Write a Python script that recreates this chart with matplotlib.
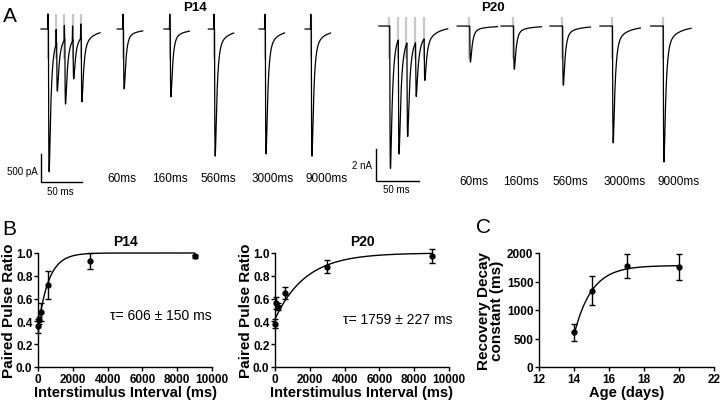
import numpy as np
import matplotlib.pyplot as plt

plt.rcParams['font.family'] = ['Liberation Sans', 'DejaVu Sans']

# ---------------- data ----------------
# panel A: peak amplitudes
train_isi = 10  # ms between pulses of the train
p14_train_peaks = [2550, 1110, 1340, 890, 1300]    # pA
p14_single_peaks = [1070, 1210, 2270, 2230, 2270]  # pA
p20_train_peaks = [8.9, 8.0, 6.9, 4.4, 3.4]        # nA
p20_single_peaks = [2.25, 2.7, 3.7, 7.3, 8.5]      # nA
recovery_labels = ['60ms', '160ms', '560ms', '3000ms', '9000ms']

# panel B: paired pulse ratio vs interstimulus interval
isi_ms = [10, 60, 160, 560, 3000, 9000]
p14_ppr = [0.36, 0.41, 0.48, 0.72, 0.93, 0.97]
p14_sem = [0.06, 0.03, 0.08, 0.125, 0.07, 0.01]
p20_ppr = [0.38, 0.56, 0.53, 0.65, 0.88, 0.975]
p20_sem = [0.04, 0.05, 0.03, 0.05, 0.055, 0.06]
p14_tau, p14_tau_sem, p14_y0 = 606, 150, 0.33
p20_tau, p20_tau_sem, p20_y0 = 1759, 227, 0.42

# panel C: recovery decay constant vs age
age_days = [14, 15, 17, 20]
decay_ms = [606, 1340, 1775, 1759]
decay_sem = [150, 260, 210, 227]
c_start, c_plateau, c_k = 560, 1780, 1.0


# ---------------- helpers ----------------
def kern(s):
    s = np.asarray(s, float)
    out = np.where(s > 0, (1 - np.exp(-s / 0.45)) * (0.9 * np.exp(-s / 2.2) + 0.1 * np.exp(-s / 14)), 0.0)
    return out

_g = np.linspace(0, 20, 4001)
KMAX = kern(_g).max()
TPK = _g[np.argmax(kern(_g))]
DELAY = 0.6


def draw_trace(ax, stims, peaks, t0, t1, spike, art_top, art_bot):
    t = np.linspace(t0, t1, 2000)
    y = np.zeros_like(t)
    amps = []
    for i, (s, pk) in enumerate(zip(stims, peaks)):
        tp = s + DELAY + TPK
        resid = sum(a * kern(tp - ss - DELAY) / KMAX for a, ss in zip(amps, stims[:i]))
        amps.append(pk - resid)
    for a, s in zip(amps, stims):
        y -= a * kern(t - s - DELAY) / KMAX
        y += spike * np.clip(1 - np.abs(t - s) / 0.35, 0, 1)
    ax.vlines(stims, art_bot, art_top, color='#c8c8c8', lw=1.6, zorder=1)
    ax.plot(t, y, color='k', lw=0.9, zorder=2)


# ---------------- figure ----------------
fig = plt.figure(figsize=(7.2, 4.02), dpi=100)

# panel A, P14 (ms / pA)
ax14 = fig.add_axes([0, 1 - 200 / 402, 0.5, 200 / 402])
ax14.set_xlim(0, 439)
ax14.set_ylim(-3036, 536)
ax14.axis('off')
train14 = [58.5 + i * train_isi for i in range(len(p14_train_peaks))]
draw_trace(ax14, train14, p14_train_peaks, 50, 122, 270, 270, -540)
for s, pk in zip([150, 207, 261, 323, 379], p14_single_peaks):
    draw_trace(ax14, [s], [pk], s - 7, s + 24, 270, 270, -540)
ax14.plot([49.6, 49.6, 99.6], [-2232, -2732, -2732], color='k', lw=1)
ax14.text(46.3, -2536, '500 pA', fontsize=7, ha='right', va='center')
ax14.text(74, -2893, '50 ms', fontsize=7, ha='center', va='center')
for x, lab in zip([130.5, 185.4, 243.9, 307.3, 372], recovery_labels):
    ax14.text(x, -2661, lab, fontsize=8.5, ha='left', va='center')
fig.text(195 / 720, 1 - 8 / 402, 'P14', fontsize=9.5, fontweight='bold', ha='center', va='center')

# panel A, P20 (ms / nA)
ax20 = fig.add_axes([0.5, 1 - 200 / 402, 0.5, 200 / 402])
ax20.set_xlim(0, 418.6)
ax20.set_ylim(-10.81, 1.69)
ax20.axis('off')
train20 = [34 + i * train_isi for i in range(len(p20_train_peaks))]
draw_trace(ax20, train20, p20_train_peaks, 22, 102, 0, 0.56, -2.06)
for s, pk in zip([127, 178, 235, 293, 352], p20_single_peaks):
    draw_trace(ax20, [s], [pk], s - 14, s + 33, 0, 0.56, -2.06)
ax20.plot([18.6, 18.6, 68.6], [-7.69, -9.69, -9.69], color='k', lw=1)
ax20.text(14, -8.69, '2 nA', fontsize=7, ha='right', va='center')
ax20.text(42, -10.19, '50 ms', fontsize=7, ha='center', va='center')
for x, lab in zip([115.1, 166.3, 223.3, 282.6, 346.5], recovery_labels):
    ax20.text(x, -9.69, lab, fontsize=8.5, ha='left', va='center')
fig.text(493 / 720, 1 - 8 / 402, 'P20', fontsize=9.5, fontweight='bold', ha='center', va='center')


def style_axes(ax):
    for side in ['top', 'right']:
        ax.spines[side].set_visible(False)
    for side in ['left', 'bottom']:
        ax.spines[side].set_linewidth(1)
    ax.tick_params(direction='out', length=3, width=1, labelsize=8.5, pad=1)
    for lab in ax.get_xticklabels() + ax.get_yticklabels():
        lab.set_fontweight('bold')


# panel B
t_fit = np.linspace(0, 9000, 400)
for left, ppr, sem, tau, tau_sem, y0, title, tx, ty in [
        (38, p14_ppr, p14_sem, p14_tau, p14_tau_sem, p14_y0, 'P14', 4138, 0.46),
        (275, p20_ppr, p20_sem, p20_tau, p20_tau_sem, p20_y0, 'P20', 3908, 0.42)]:
    ax = fig.add_axes([left / 720, 34 / 402, 174 / 720, 114 / 402])
    ax.plot(t_fit, 1 - (1 - y0) * np.exp(-t_fit / tau), color='k', lw=1, clip_on=False)
    ax.errorbar(isi_ms, ppr, yerr=sem, fmt='o', color='k', ms=3.5, capsize=2.4,
                elinewidth=1, capthick=1, clip_on=False)
    ax.set_xlim(0, 10000)
    ax.set_ylim(0, 1.0)
    ax.set_xticks(np.arange(0, 10001, 2000))
    ax.set_yticks(np.arange(0, 1.01, 0.2))
    ax.set_yticklabels([f'{v:.1f}' for v in np.arange(0, 1.01, 0.2)])
    style_axes(ax)
    ax.set_xlabel('Interstimulus Interval (ms)', fontsize=10.5, fontweight='bold', labelpad=0)
    ax.set_ylabel('Paired Pulse Ratio', fontsize=11, fontweight='bold', labelpad=0)
    ax.set_title(title, fontsize=10, fontweight='bold', pad=6)
    ax.text(tx, ty, f'\u03c4= {tau} \u00b1 {tau_sem} ms', fontsize=10, ha='left', va='center')

# panel C
axc = fig.add_axes([539 / 720, 34 / 402, 175 / 720, 114 / 402])
a_fit = np.linspace(14, 20, 200)
axc.plot(a_fit, c_plateau - (c_plateau - c_start) * np.exp(-(a_fit - 14) / c_k), color='k', lw=1)
axc.errorbar(age_days, decay_ms, yerr=decay_sem, fmt='o', color='k', ms=3.5, capsize=2.4,
             elinewidth=1, capthick=1, clip_on=False)
axc.set_xlim(12, 22)
axc.set_ylim(0, 2000)
axc.set_xticks(np.arange(12, 23, 2))
axc.set_yticks(np.arange(0, 2001, 500))
style_axes(axc)
axc.set_xlabel('Age (days)', fontsize=10.5, fontweight='bold', labelpad=0)
axc.set_ylabel('Recovery Decay\nconstant (ms)', fontsize=11, fontweight='bold', labelpad=2, linespacing=0.95)

# panel letters
fig.text(3 / 720, 1 - 22 / 402, 'A', fontsize=15, va='baseline')
fig.text(2 / 720, 1 - 235 / 402, 'B', fontsize=15, va='baseline')
fig.text(476 / 720, 1 - 233 / 402, 'C', fontsize=15, va='baseline')

fig.savefig('out.png', dpi=100)
